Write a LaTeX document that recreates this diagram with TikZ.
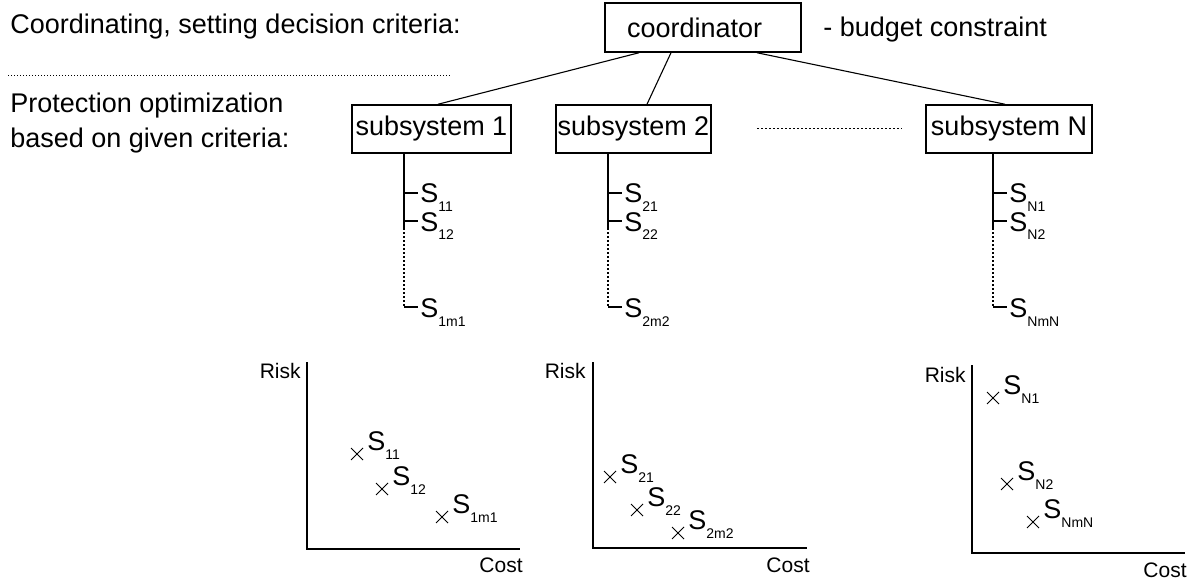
\documentclass[tikz,border=0pt]{standalone}
\usepackage{fontspec}
\setmainfont{Liberation Sans}
\usetikzlibrary{shapes.misc}
\newcommand{\Sub}[1]{S\raisebox{-4.5pt}{\fontsize{7}{8}\selectfont #1}}
\begin{document}
\begin{tikzpicture}[x=0.5pt,y=-0.5pt,
  every node/.style={inner sep=0pt, font=\fontsize{13.5}{16}\selectfont},
  box/.style={draw, line width=0.75pt, minimum height=24pt},
  conn/.style={line width=0.55pt},
  axis/.style={line width=0.6pt},
  topdots/.style={line width=0.5pt, dash pattern=on 0.5pt off 1pt},
  middots/.style={line width=0.5pt, dash pattern=on 1pt off 1pt},
  treedots/.style={line width=0.55pt, dash pattern=on 1pt off 1pt},
  xmark/.style={draw, cross out, minimum size=5.5pt, inner sep=0pt, line width=0.5pt},
  axlabel/.style={font=\fontsize{10.5}{12}\selectfont}
]
\useasboundingbox (0,0) rectangle (1200,583);

% left texts
\node[anchor=base west] (t1) at (10,34) {Coordinating, setting decision criteria:};
\node[anchor=base west] (t2) at (10,113) {Protection optimization};
\node[anchor=base west] (t3) at (10,148) {based on given criteria:};
\coordinate (dl1) at (8,76);
\coordinate (dl2) at (450,76);
\draw[topdots] (dl1) -- (dl2);

% coordinator
\node[box, minimum height=24.5pt, inner xsep=11pt, text width=76pt, align=left] (coord) at (703,27.5) {coordinator};
\node[anchor=base west] (bud) at (823,37) {- budget constraint};

% subsystems
\node[box, minimum width=79.5pt] (sub1) at (431.5,129) {subsystem 1};
\node[box, minimum width=77.5pt] (sub2) at (633.5,129) {subsystem 2};
\node[box, minimum width=83pt] (subN) at (1009,129) {subsystem N};
\coordinate (md1) at (757,129);
\coordinate (md2) at (902,129);
\draw[middots] (md1) -- (md2);

% coordinator links
\coordinate (ca) at (639,0);
\coordinate (cb) at (671,0);
\coordinate (cc) at (757,0);
\coordinate (sa) at (438,0);
\coordinate (sb) at (647,0);
\coordinate (sc) at (1005,0);
\draw[conn] (coord.south -| ca) -- (sub1.north -| sa);
\draw[conn] (coord.south -| cb) -- (sub2.north -| sb);
\draw[conn] (coord.south -| cc) -- (subN.north -| sc);

% trees
\foreach \x/\i/\a/\b/\c in {404/1/11/12/1m1, 608/2/21/22/2m2, 993/N/N1/N2/NmN} {
  \coordinate (v\i) at (\x,0);
  \coordinate (d\i) at (\x,228);
  \coordinate (ta\i) at (\x,193);
  \coordinate (tb\i) at (\x,221);
  \coordinate (tc\i) at (\x,307);
  \draw[conn] (sub\i.south -| v\i) -- (d\i);
  \draw[treedots] (d\i) -- (tc\i);
  \node[anchor=base west] (la\i) at (\x+16,203) {\Sub{\a}};
  \node[anchor=base west] (lb\i) at (\x+16,231) {\Sub{\b}};
  \node[anchor=base west] (lc\i) at (\x+16,317) {\Sub{\c}};
  \draw[conn] (ta\i) -- ++(14,0);
  \draw[conn] (tb\i) -- ++(14,0);
  \draw[conn] (tc\i) -- ++(14,0);
}

% plot 1
\coordinate (y1) at (307,362);
\coordinate (o1) at (307,549);
\coordinate (x1) at (520,549);
\draw[axis] (y1) -- (o1) -- (x1);
\node[axlabel, anchor=base east] (risk1) at (301,378) {Risk};
\node[axlabel, anchor=base east] (cost1) at (523,572) {Cost};
\node[xmark] (p11) at (357,454) {};
\node[xmark] (p12) at (382,489) {};
\node[xmark] (p1m) at (442,517) {};
\node[anchor=base west] at ([xshift=5pt,yshift=2pt]p11.center) {\Sub{11}};
\node[anchor=base west] at ([xshift=5pt,yshift=2pt]p12.center) {\Sub{12}};
\node[anchor=base west] at ([xshift=5pt,yshift=2pt]p1m.center) {\Sub{1m1}};

% plot 2
\coordinate (y2) at (593,362);
\coordinate (o2) at (593,548);
\coordinate (x2) at (807,548);
\draw[axis] (y2) -- (o2) -- (x2);
\node[axlabel, anchor=base east] (risk2) at (586,378) {Risk};
\node[axlabel, anchor=base east] (cost2) at (810,572) {Cost};
\node[xmark] (p21) at (610,477) {};
\node[xmark] (p22) at (637,510) {};
\node[xmark] (p2m) at (678,533) {};
\node[anchor=base west] at ([xshift=5pt,yshift=2pt]p21.center) {\Sub{21}};
\node[anchor=base west] at ([xshift=5pt,yshift=2pt]p22.center) {\Sub{22}};
\node[anchor=base west] at ([xshift=5pt,yshift=2pt]p2m.center) {\Sub{2m2}};

% plot 3
\coordinate (y3) at (972,365);
\coordinate (o3) at (972,553);
\coordinate (x3) at (1185,553);
\draw[axis] (y3) -- (o3) -- (x3);
\node[axlabel, anchor=base east] (risk3) at (966,382) {Risk};
\node[axlabel, anchor=base east] (cost3) at (1187,577) {Cost};
\node[xmark] (p31) at (993,398) {};
\node[xmark] (p32) at (1007,484) {};
\node[xmark] (p3m) at (1033,522) {};
\node[anchor=base west] at ([xshift=5pt,yshift=2pt]p31.center) {\Sub{N1}};
\node[anchor=base west] at ([xshift=5pt,yshift=2pt]p32.center) {\Sub{N2}};
\node[anchor=base west] at ([xshift=5pt,yshift=2pt]p3m.center) {\Sub{NmN}};
\end{tikzpicture}
\end{document}
